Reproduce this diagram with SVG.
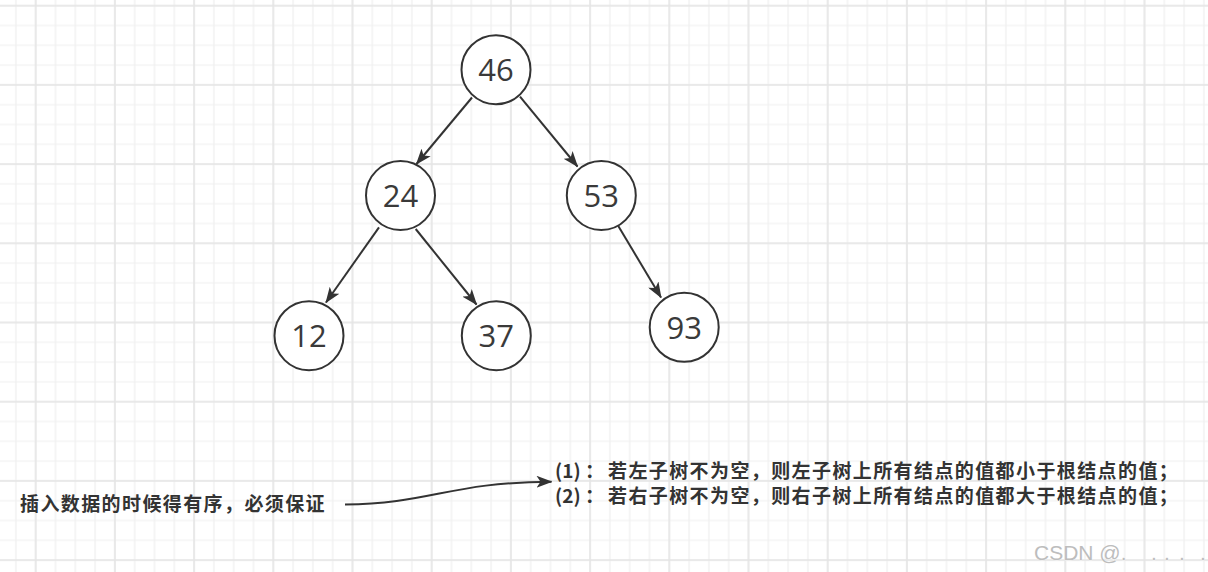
<svg xmlns="http://www.w3.org/2000/svg" width="1208" height="572" viewBox="0 0 1208 572">
  <style>
    .node circle { fill: #ffffff; stroke: #333333; stroke-width: 2; }
    .node text { font-family: "Open Sans", "Noto Sans", sans-serif; font-size: 31px; fill: #3a3a3a; text-anchor: middle; }
    .edge { fill: none; stroke: #333333; stroke-width: 2; marker-end: url(#arrow); }
    .note { font-family: "Noto Sans CJK SC", "Noto Sans", sans-serif; font-size: 19px; letter-spacing: 1.4px; font-weight: bold; fill: #333333; }
    .num { letter-spacing: 0px; }
    .wm { font-family: "Liberation Sans", "Noto Sans", sans-serif; font-size: 21px; fill: #bdbdbd; stroke: #ffffff; stroke-width: 0.4; paint-order: stroke; }
  </style>
  <defs>
    <pattern id="minor" patternUnits="userSpaceOnUse" x="6" y="-4.2" width="19.8" height="19.8">
      <path d="M9.9,0 V19.8 M0,9.9 H19.8" stroke="#efefef" stroke-width="1.2" fill="none"/>
    </pattern>
    <pattern id="major" patternUnits="userSpaceOnUse" x="-3.9" y="-33.9" width="79.2" height="79.2">
      <path d="M39.6,0 V79.2 M0,39.6 H79.2" stroke="#e5e5e5" stroke-width="1.5" fill="none"/>
    </pattern>
    <marker id="arrow" viewBox="0 0 16 12" refX="15" refY="6" markerWidth="16" markerHeight="12" markerUnits="userSpaceOnUse" orient="auto">
      <path d="M0,0 L16,6 L0,12 L4,6 Z" fill="#333333"/>
    </marker>
  </defs>

  <rect width="1208" height="572" fill="#ffffff"/>
  <rect width="1208" height="572" fill="url(#minor)"/>
  <rect width="1208" height="572" fill="url(#major)"/>

  <g id="connectors">
    <line class="edge" x1="472" y1="97.5" x2="416.5" y2="164"/>
    <line class="edge" x1="520" y1="96.7" x2="577.5" y2="166.5"/>
    <line class="edge" x1="379" y1="227.3" x2="326" y2="302.5"/>
    <line class="edge" x1="415.7" y1="229" x2="476.5" y2="304.5"/>
    <line class="edge" x1="618.3" y1="226" x2="661" y2="297.5"/>
    <path class="edge" d="M345,504.5 C430,504 450,482 551.5,481.7"/>
  </g>

  <g id="node-46" class="node">
    <circle cx="496" cy="69.7" r="34.5"/>
    <text x="496" y="81">46</text>
  </g>
  <g id="node-24" class="node">
    <circle cx="400.5" cy="195.5" r="34.5"/>
    <text x="400.5" y="207">24</text>
  </g>
  <g id="node-53" class="node">
    <circle cx="601.3" cy="195.5" r="34.5"/>
    <text x="601.3" y="207">53</text>
  </g>
  <g id="node-12" class="node">
    <circle cx="309" cy="335.7" r="34.5"/>
    <text x="309" y="347.2">12</text>
  </g>
  <g id="node-37" class="node">
    <circle cx="496.3" cy="335.7" r="34.5"/>
    <text x="496.3" y="347.2">37</text>
  </g>
  <g id="node-93" class="node">
    <circle cx="684.2" cy="327.3" r="34.5"/>
    <text x="684.2" y="338.8">93</text>
  </g>

  <g id="note-left">
    <text class="note" x="20" y="511">插入数据的时候得有序，必须保证</text>
  </g>
  <g id="note-right">
    <text class="note" x="555" y="478"><tspan class="num">(1) ： </tspan><tspan x="608">若左子树不为空，则左子树上所有结点的值都小于根结点的值；</tspan><tspan class="num" x="555" y="503">(2) ： </tspan><tspan x="608" y="503">若右子树不为空，则右子树上所有结点的值都大于根结点的值；</tspan></text>
  </g>

  <g id="watermark">
    <text class="wm" x="1034" y="560">CSDN @.<tspan x="1151">.</tspan><tspan x="1164">.</tspan><tspan x="1179">.</tspan><tspan x="1200">.</tspan></text>
  </g>
</svg>
